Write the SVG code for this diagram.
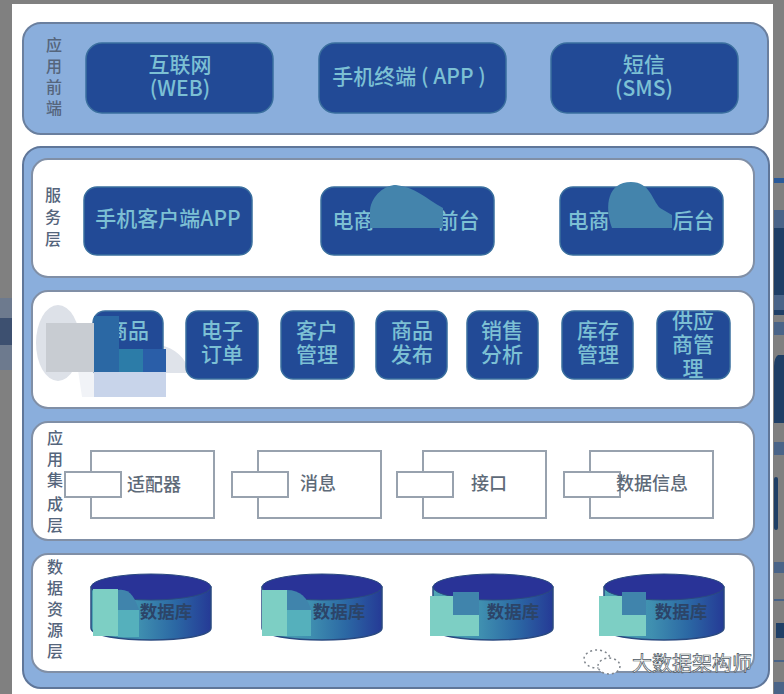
<svg xmlns="http://www.w3.org/2000/svg" width="784" height="694" viewBox="0 0 784 694">
<defs>
<linearGradient id="cyl" x1="0" x2="1" y1="0" y2="0"><stop offset="0" stop-color="#4fa6b4"/><stop offset=".4" stop-color="#3f8fb0"/><stop offset=".7" stop-color="#2b68a4"/><stop offset="1" stop-color="#253a96"/></linearGradient>
<g id="db">
<path d="M-60 -20 V21 C-60 37 60 37 60 21 V-20 Z" fill="url(#cyl)" stroke="#2a4a80" stroke-width="1.500"/>
<ellipse cx="0" cy="-20" rx="60" ry="13" fill="#293397" stroke="#2a4a80"/>
</g>
<g id="comp">
<rect x="0" y="0" width="123" height="67" fill="#fff" stroke="#98a2ae" stroke-width="2"/>
<rect x="-26" y="21" width="56" height="25" fill="#fff" stroke="#98a2ae" stroke-width="2"/>
</g>
</defs>
<style>
.panel{fill:#fff;stroke:#808fa6;stroke-width:2}
.btn{fill:#224a96;stroke:#3a6f9e;stroke-width:1.500}
.bt{font-family:"Noto Sans CJK SC","Liberation Sans",sans-serif;fill:#7cc0d4;font-size:21px;font-weight:500;text-anchor:middle}
.side{font-family:"Noto Sans CJK SC","Liberation Sans",sans-serif;fill:#55657c;font-size:16px;font-weight:500;text-anchor:middle}
.lab{font-family:"Noto Sans CJK SC","Liberation Sans",sans-serif;fill:#5e6a78;font-size:18px;font-weight:500;text-anchor:middle}
.dbt{font-family:"Noto Sans CJK SC","Liberation Sans",sans-serif;fill:#2c4468;font-size:17.500px;font-weight:700;text-anchor:middle}
.teal{fill:#7dcfc4}.mid{fill:#4084ac}.low{fill:#55b0bc}
.frag{fill:#1f3f66}.dith{fill:#4a6488}
</style>
<rect width="784" height="694" fill="#808080"/>
<g id="page-edges">
<rect x="0" y="298" width="12" height="72" fill="#6d7a8e"/>
<rect x="0" y="318" width="12" height="27" fill="#3d5070"/>
<rect x="774" y="178" width="10" height="5" fill="#2a5a9a"/>
<rect class="dith" x="774" y="210" width="10" height="18"/>
<rect class="frag" x="774" y="228" width="10" height="67"/>
<rect class="dith" x="774" y="295" width="10" height="15"/>
<rect class="frag" x="774" y="310" width="10" height="5"/>
<rect class="dith" x="774" y="322" width="10" height="13"/>
<path class="frag" d="M784 355 H778 Q774 358 774 366 V423 H784 Z"/>
<rect class="dith" x="774" y="442" width="10" height="13"/>
<rect class="frag" x="774" y="477" width="4" height="53" rx="2"/>
<rect class="dith" x="774" y="562" width="10" height="11"/>
<rect class="dith" x="774" y="599" width="10" height="2"/>
<rect class="frag" x="776" y="623" width="8" height="15"/>
<rect class="dith" x="774" y="660" width="10" height="2"/>
<rect class="dith" x="774" y="682" width="10" height="12"/>
</g>
<rect x="12" y="4" width="761" height="690" fill="#fff"/>
<rect x="23" y="23" width="745" height="111" rx="18" fill="#8aaedc" stroke="#6a7f9e" stroke-width="2"/>
<rect x="23" y="147" width="746" height="541" rx="18" fill="#8aaedc" stroke="#5f7699" stroke-width="2"/>
<rect class="panel" x="32" y="159" width="722" height="118" rx="16"/>
<rect class="panel" x="32" y="291" width="722" height="117" rx="16"/>
<rect class="panel" x="32" y="422" width="722" height="118" rx="16"/>
<rect class="panel" x="32" y="554" width="722" height="118" rx="16"/>
<g id="front-label"><text class="side"><tspan x="54" y="51">应</tspan><tspan x="54" y="72">用</tspan><tspan x="54" y="93">前</tspan><tspan x="54" y="114">端</tspan></text></g>
<g id="service-label"><text class="side"><tspan x="53" y="201">服</tspan><tspan x="53" y="223">务</tspan><tspan x="53" y="245">层</tspan></text></g>
<g id="integration-label"><text class="side"><tspan x="55" y="444">应</tspan><tspan x="55" y="465">用</tspan><tspan x="55" y="486">集</tspan><tspan x="55" y="510">成</tspan><tspan x="55" y="531">层</tspan></text></g>
<g id="data-label"><text class="side"><tspan x="55" y="573">数</tspan><tspan x="55" y="594">据</tspan><tspan x="55" y="615">资</tspan><tspan x="55" y="636">源</tspan><tspan x="55" y="657">层</tspan></text></g>
<g id="web"><rect class="btn" x="86" y="43" width="187" height="70" rx="16"/><text class="bt"><tspan x="180" y="72">互联网</tspan><tspan x="180" y="96">(WEB)</tspan></text></g>
<g id="app"><rect class="btn" x="319" y="43" width="187" height="70" rx="16"/><text class="bt" x="409" y="84">手机终端 ( APP )</text></g>
<g id="sms"><rect class="btn" x="551" y="43" width="187" height="70" rx="16"/><text class="bt"><tspan x="644" y="72">短信</tspan><tspan x="644" y="96">(SMS)</tspan></text></g>
<g id="mobile"><rect class="btn" x="84" y="187" width="168" height="68" rx="13"/><text class="bt" x="168" y="226">手机客户端APP</text></g>
<g id="front"><rect class="btn" x="321" y="187" width="173" height="68" rx="13"/><text class="bt" x="406" y="228" xml:space="preserve">电商　　　前台</text><path d="M370 228 V210 C372 195 385 185 396 185 C415 187 425 198 443 208 V228 Z" fill="#4484ac"/></g>
<g id="back"><rect class="btn" x="560" y="187" width="163" height="68" rx="13"/><text class="bt" x="641" y="228" xml:space="preserve">电商　　　后台</text><path d="M612 228 C604 205 608 182 631 182 C650 182 652 200 660 208 L672 215 V228 Z" fill="#4484ac"/></g>
<g id="smudge-back">
<ellipse cx="58" cy="343" rx="22" ry="38" fill="#dde1e8"/>
<path d="M160 345 C175 348 186 358 190 373 H166 V350 Z" fill="#dfe3ea"/>
<path d="M78 370 H94 V397 H82 Z" fill="#f1f3f7"/>
</g>
<g id="goods"><rect class="btn" x="93" y="311" width="70" height="68" rx="12"/><text class="bt" x="128" y="338">商品</text></g>
<g id="order"><rect class="btn" x="186" y="311" width="72" height="68" rx="12"/><text class="bt"><tspan x="222" y="338">电子</tspan><tspan x="222" y="362">订单</tspan></text></g>
<g id="customer"><rect class="btn" x="281" y="311" width="73" height="68" rx="12"/><text class="bt"><tspan x="317" y="338">客户</tspan><tspan x="317" y="362">管理</tspan></text></g>
<g id="publish"><rect class="btn" x="376" y="311" width="71" height="68" rx="12"/><text class="bt"><tspan x="412" y="338">商品</tspan><tspan x="412" y="362">发布</tspan></text></g>
<g id="sales"><rect class="btn" x="467" y="311" width="71" height="68" rx="12"/><text class="bt"><tspan x="502" y="338">销售</tspan><tspan x="502" y="362">分析</tspan></text></g>
<g id="stock"><rect class="btn" x="562" y="311" width="71" height="68" rx="12"/><text class="bt"><tspan x="598" y="338">库存</tspan><tspan x="598" y="362">管理</tspan></text></g>
<g id="supplier"><rect class="btn" x="657" y="311" width="73" height="68" rx="12"/><text class="bt"><tspan x="693" y="328">供应</tspan><tspan x="693" y="352">商管</tspan><tspan x="693" y="376">理</tspan></text></g>
<g id="smudge-front">
<rect x="46" y="323" width="48" height="49" fill="#c8ccd2"/>
<rect x="94" y="316" width="25" height="56" fill="#2b68a4"/>
<rect x="119" y="349" width="24" height="23" fill="#2c7ca8"/>
<rect x="143" y="349" width="23" height="23" fill="#2a5ea8"/>
<rect x="94" y="372" width="72" height="25" fill="#c8d4ea"/>
</g>
<g id="adapter"><use href="#comp" x="91" y="451"/><text class="lab" x="154" y="491">适配器</text></g>
<g id="message"><use href="#comp" x="258" y="451"/><text class="lab" x="318" y="490">消息</text></g>
<g id="interface"><use href="#comp" x="423" y="451"/><text class="lab" x="489" y="490">接口</text></g>
<g id="datainfo"><use href="#comp" x="590" y="451"/><text class="lab" x="652" y="490">数据信息</text></g>
<g id="db1"><use href="#db" x="151" y="607"/><path d="M118 590 C130 588 135 598 139 610 V633 H118 Z" class="mid"/><rect class="low" x="118" y="610" width="21" height="27"/><rect class="teal" x="93" y="589" width="25" height="47"/><text class="dbt" x="166" y="618">数据库</text></g>
<g id="db2"><use href="#db" x="322" y="607"/><path d="M287 590 C300 590 308 598 311 610 V636 H287 Z" class="mid"/><rect class="low" x="287" y="610" width="24" height="26"/><rect class="teal" x="262" y="590" width="25" height="46"/><text class="dbt" x="339" y="618">数据库</text></g>
<g id="db3"><use href="#db" x="493" y="607"/><rect class="mid" x="453" y="592" width="26" height="24"/><rect class="teal" x="453" y="615" width="26" height="21"/><rect class="teal" x="430" y="596" width="23" height="40"/><text class="dbt" x="513" y="618">数据库</text></g>
<g id="db4"><use href="#db" x="664" y="607"/><rect class="mid" x="622" y="592" width="24" height="24"/><rect class="teal" x="622" y="615" width="24" height="21"/><rect class="teal" x="599" y="596" width="23" height="40"/><text class="dbt" x="681" y="618">数据库</text></g>
<g id="watermark"><ellipse cx="597" cy="659" rx="13" ry="9" fill="#fff" stroke="#7f858c" stroke-width="1.500" stroke-dasharray="2 3"/><ellipse cx="609" cy="666" rx="11" ry="8" fill="#fff" stroke="#7f858c" stroke-width="1.500" stroke-dasharray="2 3"/><text x="632" y="671" font-family="Noto Sans CJK SC, sans-serif" font-size="20" fill="#fff" stroke="#4a5560" stroke-width=".7">大数据架构师</text></g>
</svg>
